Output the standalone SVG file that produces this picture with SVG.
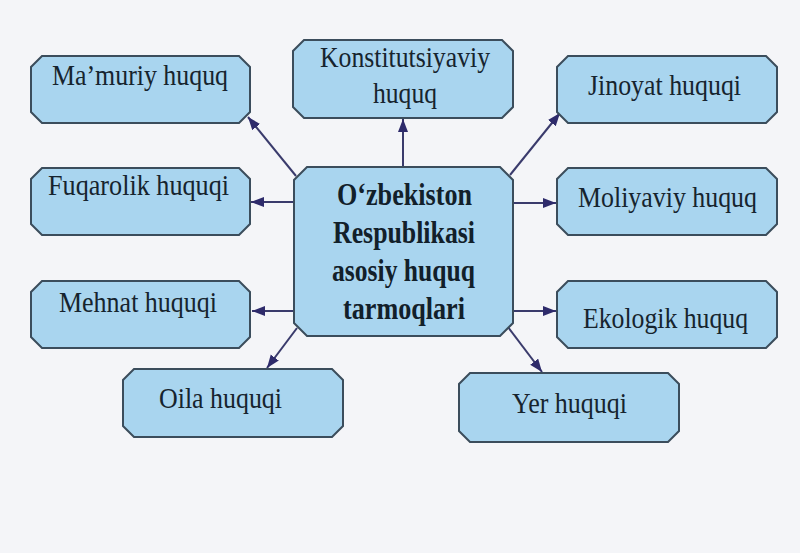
<svg xmlns="http://www.w3.org/2000/svg" width="800" height="553" viewBox="0 0 800 553">
<defs>
<marker id="ah" markerUnits="userSpaceOnUse" markerWidth="15" markerHeight="11" refX="13" refY="5" orient="auto">
<path d="M0,0 L13,5 L0,10 z" fill="#2e2b6b"/>
</marker>
<style>
.box{fill:#a9d5ef;stroke:#3b4d5c;stroke-width:2}
.t{font-family:"Liberation Serif","Times New Roman",serif;font-size:30px;fill:#16242e}
.b{font-family:"Liberation Serif","Times New Roman",serif;font-size:31px;font-weight:bold;fill:#12202a}
.c{stroke:#3a3b6c;stroke-width:2;fill:none;marker-end:url(#ah)}
</style>
</defs>
<rect width="800" height="553" fill="#f4f5f8"/>
<g id="connectors">
<line class="c" x1="403" y1="167" x2="403" y2="119"/>
<line class="c" x1="296" y1="176" x2="248" y2="117"/>
<line class="c" x1="294" y1="202" x2="251" y2="202"/>
<line class="c" x1="294" y1="311" x2="252" y2="311"/>
<line class="c" x1="297" y1="328" x2="267" y2="368"/>
<line class="c" x1="510" y1="175" x2="560" y2="113"/>
<line class="c" x1="513" y1="203" x2="556" y2="203"/>
<line class="c" x1="513" y1="311" x2="556" y2="311"/>
<line class="c" x1="508" y1="327" x2="542" y2="372"/>
</g>
<g id="mamuriy">
<polygon class="box" points="42,56 239,56 250,67 250,112 239,123 42,123 31,112 31,67"/>
<text class="t" x="52" y="85" textLength="176" lengthAdjust="spacingAndGlyphs">Ma’muriy huquq</text>
</g>
<g id="konstitutsiyaviy">
<polygon class="box" points="304,40 502,40 513,51 513,107 502,118 304,118 293,107 293,51"/>
<text class="t" x="320" y="67" textLength="170" lengthAdjust="spacingAndGlyphs">Konstitutsiyaviy</text>
<text class="t" x="373" y="103" textLength="64" lengthAdjust="spacingAndGlyphs">huquq</text>
</g>
<g id="jinoyat">
<polygon class="box" points="568,56 766,56 777,67 777,112 766,123 568,123 557,112 557,67"/>
<text class="t" x="588" y="95" textLength="153" lengthAdjust="spacingAndGlyphs">Jinoyat huquqi</text>
</g>
<g id="fuqarolik">
<polygon class="box" points="42,168 239,168 250,179 250,224 239,235 42,235 31,224 31,179"/>
<text class="t" x="48" y="195" textLength="181" lengthAdjust="spacingAndGlyphs">Fuqarolik huquqi</text>
</g>
<g id="center">
<polygon class="box" points="307,167 500,167 513,180 513,323 500,336 307,336 294,323 294,180"/>
<text class="b" x="337" y="205" textLength="135" lengthAdjust="spacingAndGlyphs">O‘zbekiston</text>
<text class="b" x="333" y="243" textLength="142" lengthAdjust="spacingAndGlyphs">Respublikasi</text>
<text class="b" x="332" y="281" textLength="143" lengthAdjust="spacingAndGlyphs">asosiy huquq</text>
<text class="b" x="343" y="319" textLength="122" lengthAdjust="spacingAndGlyphs">tarmoqlari</text>
</g>
<g id="moliyaviy">
<polygon class="box" points="568,168 766,168 777,179 777,224 766,235 568,235 557,224 557,179"/>
<text class="t" x="578" y="207" textLength="179" lengthAdjust="spacingAndGlyphs">Moliyaviy huquq</text>
</g>
<g id="mehnat">
<polygon class="box" points="42,281 239,281 250,292 250,337 239,348 42,348 31,337 31,292"/>
<text class="t" x="59" y="312" textLength="158" lengthAdjust="spacingAndGlyphs">Mehnat huquqi</text>
</g>
<g id="ekologik">
<polygon class="box" points="568,281 766,281 777,292 777,337 766,348 568,348 557,337 557,292"/>
<text class="t" x="583" y="328" textLength="165" lengthAdjust="spacingAndGlyphs">Ekologik huquq</text>
</g>
<g id="oila">
<polygon class="box" points="134,369 332,369 343,380 343,426 332,437 134,437 123,426 123,380"/>
<text class="t" x="159" y="408" textLength="123" lengthAdjust="spacingAndGlyphs">Oila huquqi</text>
</g>
<g id="yer">
<polygon class="box" points="470,373 668,373 679,384 679,431 668,442 470,442 459,431 459,384"/>
<text class="t" x="512" y="413" textLength="115" lengthAdjust="spacingAndGlyphs">Yer huquqi</text>
</g>
</svg>
